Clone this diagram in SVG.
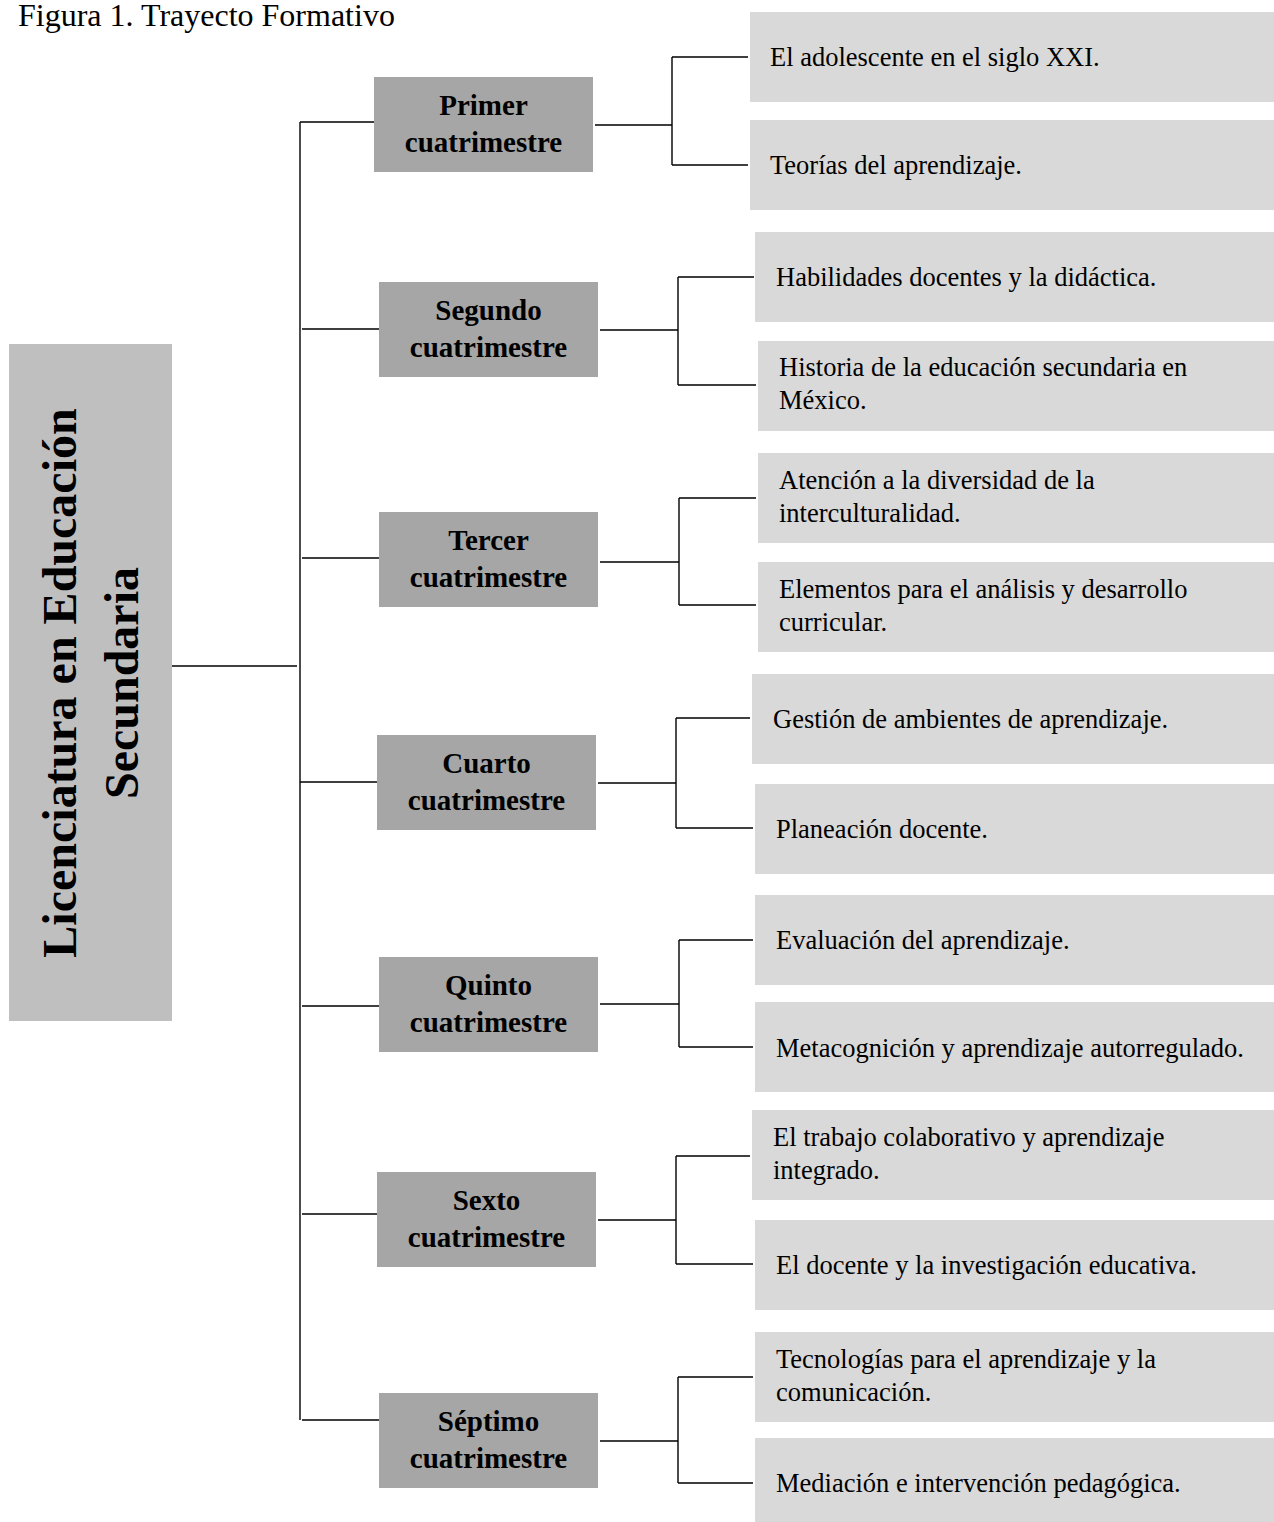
<svg xmlns="http://www.w3.org/2000/svg" width="1274" height="1522" viewBox="0 0 1274 1522">
<style>
.root{fill:#BFBFBF}
.cu{fill:#A6A6A6}
.sub{fill:#D9D9D9}
.rt{font-family:"Liberation Serif","Times New Roman",serif;font-weight:bold;font-size:48px;fill:#000}
.ct{font-family:"Liberation Serif","Times New Roman",serif;font-weight:bold;font-size:29px;fill:#000;text-anchor:middle}
.st{font-family:"Liberation Serif","Times New Roman",serif;font-size:26.5px;fill:#000}
.tt{font-family:"Liberation Serif","Times New Roman",serif;font-size:32px;fill:#000}
.ln{stroke:#000;stroke-width:1.4;fill:none}
</style>
<rect width="1274" height="1522" fill="#fff"/>
<text class="tt" x="18" y="26">Figura 1. Trayecto Formativo</text>

<g id="connectors">
<path class="ln" d="M172,666 H297"/>
<path class="ln" d="M300,122 V1420"/>
<path class="ln" d="M300,122 H374 M302,329 H379 M302,558 H379 M300,782 H377 M302,1006 H379 M302,1214 H377 M302,1420 H379"/>
<path class="ln" d="M595,125 H672 M672,57 V165 M672,57 H748 M672,165 H748"/>
<path class="ln" d="M600,330 H678 M678,277 V385 M678,277 H754 M678,385 H756"/>
<path class="ln" d="M600,562 H679 M679,498 V605 M679,498 H756 M679,605 H756"/>
<path class="ln" d="M598,783 H676 M676,718 V828 M676,718 H750 M676,828 H753"/>
<path class="ln" d="M600,1004 H679 M679,940 V1047 M679,940 H753 M679,1047 H753"/>
<path class="ln" d="M598,1220 H676 M676,1156 V1264 M676,1156 H750 M676,1264 H753"/>
<path class="ln" d="M600,1441 H678 M678,1377 V1483 M678,1377 H753 M678,1483 H753"/>
</g>

<g id="root">
<rect class="root" x="9" y="344" width="163" height="677"/>
<text class="rt" text-anchor="middle" transform="translate(76,683) rotate(-90)">Licenciatura en Educación</text>
<text class="rt" text-anchor="middle" transform="translate(138,683) rotate(-90)">Secundaria</text>
</g>

<g id="c1"><rect class="cu" x="374" y="77" width="219" height="95"/><text class="ct" x="483.5" y="115">Primer</text><text class="ct" x="483.5" y="152">cuatrimestre</text></g>
<g id="c2"><rect class="cu" x="379" y="282" width="219" height="95"/><text class="ct" x="488.5" y="320">Segundo</text><text class="ct" x="488.5" y="357">cuatrimestre</text></g>
<g id="c3"><rect class="cu" x="379" y="512" width="219" height="95"/><text class="ct" x="488.5" y="550">Tercer</text><text class="ct" x="488.5" y="587">cuatrimestre</text></g>
<g id="c4"><rect class="cu" x="377" y="735" width="219" height="95"/><text class="ct" x="486.5" y="773">Cuarto</text><text class="ct" x="486.5" y="810">cuatrimestre</text></g>
<g id="c5"><rect class="cu" x="379" y="957" width="219" height="95"/><text class="ct" x="488.5" y="995">Quinto</text><text class="ct" x="488.5" y="1032">cuatrimestre</text></g>
<g id="c6"><rect class="cu" x="377" y="1172" width="219" height="95"/><text class="ct" x="486.5" y="1210">Sexto</text><text class="ct" x="486.5" y="1247">cuatrimestre</text></g>
<g id="c7"><rect class="cu" x="379" y="1393" width="219" height="95"/><text class="ct" x="488.5" y="1431">Séptimo</text><text class="ct" x="488.5" y="1468">cuatrimestre</text></g>

<g id="s1a"><rect class="sub" x="750" y="12" width="524" height="90"/><text class="st" x="770" y="66">El adolescente en el siglo XXI.</text></g>
<g id="s1b"><rect class="sub" x="750" y="120" width="524" height="90"/><text class="st" x="770" y="174">Teorías del aprendizaje.</text></g>
<g id="s2a"><rect class="sub" x="755" y="232" width="519" height="90"/><text class="st" x="776" y="286">Habilidades docentes y la didáctica.</text></g>
<g id="s2b"><rect class="sub" x="758" y="341" width="516" height="90"/><text class="st" x="779" y="376">Historia de la educación secundaria en</text><text class="st" x="779" y="409">México.</text></g>
<g id="s3a"><rect class="sub" x="758" y="453" width="516" height="90"/><text class="st" x="779" y="489">Atención a la diversidad de la</text><text class="st" x="779" y="522">interculturalidad.</text></g>
<g id="s3b"><rect class="sub" x="758" y="562" width="516" height="90"/><text class="st" x="779" y="598">Elementos para el análisis y desarrollo</text><text class="st" x="779" y="631">curricular.</text></g>
<g id="s4a"><rect class="sub" x="752" y="674" width="522" height="90"/><text class="st" x="773" y="728">Gestión de ambientes de aprendizaje.</text></g>
<g id="s4b"><rect class="sub" x="755" y="784" width="519" height="90"/><text class="st" x="776" y="838">Planeación docente.</text></g>
<g id="s5a"><rect class="sub" x="755" y="895" width="519" height="90"/><text class="st" x="776" y="949">Evaluación del aprendizaje.</text></g>
<g id="s5b"><rect class="sub" x="755" y="1002" width="519" height="90"/><text class="st" x="776" y="1057">Metacognición y aprendizaje autorregulado.</text></g>
<g id="s6a"><rect class="sub" x="752" y="1110" width="522" height="90"/><text class="st" x="773" y="1146">El trabajo colaborativo y aprendizaje</text><text class="st" x="773" y="1179">integrado.</text></g>
<g id="s6b"><rect class="sub" x="755" y="1220" width="519" height="90"/><text class="st" x="776" y="1274">El docente y la investigación educativa.</text></g>
<g id="s7a"><rect class="sub" x="755" y="1332" width="519" height="90"/><text class="st" x="776" y="1368">Tecnologías para el aprendizaje y la</text><text class="st" x="776" y="1401">comunicación.</text></g>
<g id="s7b"><rect class="sub" x="755" y="1438" width="519" height="84"/><text class="st" x="776" y="1492">Mediación e intervención pedagógica.</text></g>
</svg>
